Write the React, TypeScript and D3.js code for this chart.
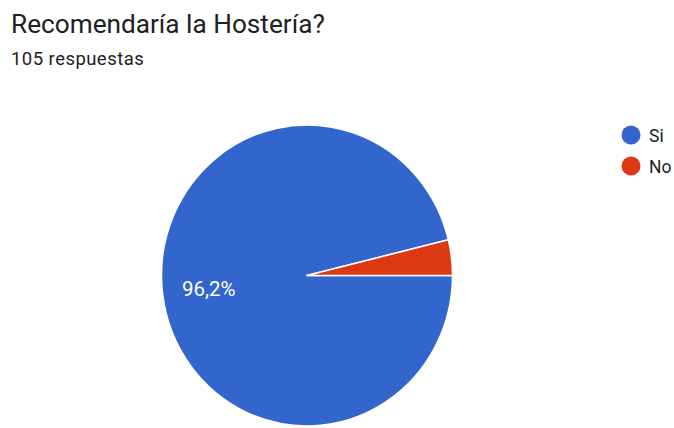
import React from "react";
import * as d3 from "d3";

const title = "Recomendaría la Hostería?";
const subtitle = "105 respuestas";
const categories = ["Si", "No"];
const counts = [101, 4];
const colors = ["#3366cc", "#dc3912"];

const W = 674;
const H = 428;

export default function App() {
  const cx = 307;
  const cy = 275.5;
  const R = 145.5;
  const sy = 150.5 / 145.5;
  const total = d3.sum(counts);
  const pie = d3
    .pie<number>()
    .sort(null)
    .startAngle(Math.PI / 2)
    .endAngle(Math.PI / 2 + 2 * Math.PI);
  const arcs = pie(counts);
  const arc = d3.arc<d3.PieArcDatum<number>>().innerRadius(0).outerRadius(R);
  const labelArc = d3
    .arc<d3.PieArcDatum<number>>()
    .innerRadius(R * 0.68)
    .outerRadius(R * 0.68);
  const fmt = (v: number) => ((v / total) * 100).toFixed(1).replace(".", ",") + "%";

  return (
    <svg
      width={W}
      height={H}
      style={{ position: "absolute", left: 0, top: 0, background: "#fff" }}
      fontFamily="Roboto, Arial, sans-serif"
    >
      <text x={11} y={33} fontSize={26.2} fill="#202124">
        {title}
      </text>
      <text x={11} y={65} fontSize={18.5} letterSpacing={0.45} fill="#202124">
        {subtitle}
      </text>
      <g transform={`translate(${cx},${cy}) scale(1,${sy})`}>
        {arcs.map((a, i) => (
          <path key={i} d={arc(a) || ""} fill={colors[i]} stroke="#fff" strokeWidth={1.5} strokeLinejoin="round" />
        ))}
        {arcs.map((a, i) => {
          const frac = counts[i] / total;
          if (frac < 0.05) return null;
          const [lx, ly] = labelArc.centroid(a);
          return (
            <text
              key={"l" + i}
              x={lx}
              y={ly + 1.5}
              transform={`scale(1,${1 / sy})`}
              fontSize={20.5}
              fill="#fff"
              textAnchor="middle"
              dominantBaseline="central"
            >
              {fmt(counts[i])}
            </text>
          );
        })}
      </g>
      {categories.map((c, i) => (
        <g key={c} transform={`translate(631,${135 + i * 31})`}>
          <circle r={9.5} fill={colors[i]} />
          <text x={18} y={6.5} fontSize={17.5} fill="#202124">
            {c}
          </text>
        </g>
      ))}
    </svg>
  );
}
